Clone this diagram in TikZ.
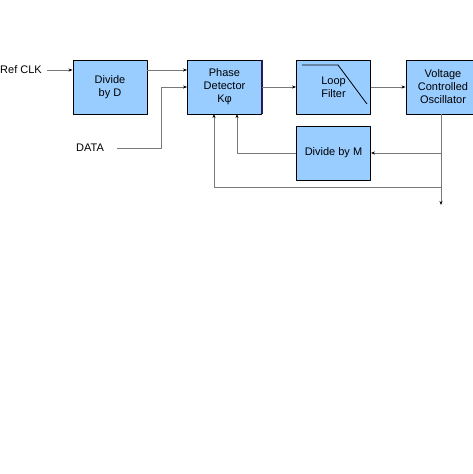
\documentclass[tikz,border=0pt]{standalone}
\usepackage{fontspec}
\setmainfont{Liberation Sans}
\usetikzlibrary{arrows.meta}
\definecolor{boxblue}{RGB}{153,204,255}
\definecolor{wiregray}{RGB}{120,120,120}
\definecolor{edgenavy}{RGB}{30,30,90}
\tikzset{
	block/.style={draw=black, line width=0.9pt, fill=boxblue, minimum width=74pt, minimum height=54pt, align=center, inner sep=1pt},
	wire/.style={draw=wiregray, line width=0.6pt},
	lbl/.style={inner sep=1pt}
}

\begin{document}
\begin{tikzpicture}[x=1pt, y=-1pt, >={Stealth[length=4pt,width=3pt,black]}, font=\fontsize{11}{13}\selectfont, line join=round]
	\useasboundingbox (0,0) rectangle (473,474);
	\begin{scope}
	\clip (0,0) rectangle (473,474);
	% blocks
	\node[block] (divD) at (110,87) {Divide\\by D};
	\node[block] (pd) at (224.5,87) {Phase\\Detector\\Kφ};
	\node[block] (lf) at (333.5,87) {Loop\\Filter};
	\node[block] (vco) at (443,87) {Voltage\\Controlled\\Oscillator};
	\node[block] (divM) at (333.5,153) {Divide by M};
	\draw[line width=1.3pt, edgenavy] (pd.north east) -- (pd.south east);
	% loop filter icon
	\draw[line width=0.8pt] (302,65) -- (338,65) -- (367,104);
	% inputs
	\node[lbl, anchor=east] (ref) at (43,70) {Ref CLK};
	\node[lbl] (data) at (90,148) {DATA};
	\coordinate (refin) at (divD.west |- 0,70);
	\coordinate (divDout) at (divD.east |- 0,70);
	\coordinate (pdinA) at (pd.west |- 0,70);
	\coordinate (pdinB) at (pd.west |- 0,87);
	\coordinate (dataend) at (117,148);
	\coordinate (datacorner) at (161,148);
	\draw[wire,->] (ref.east) ++(4,0) -- (refin);
	\draw[wire,->] (divDout) -- (pdinA);
	\draw[wire,->] (dataend) -- (datacorner) |- (pdinB);
	% forward path
	\draw[wire,->] (pd.east) -- (lf.west);
	\draw[wire,->] (lf.east) -- (vco.west);
	% feedback
	\coordinate (vcoout) at (441,114);
	\coordinate (outend) at (441,205);
	\coordinate (tapM) at (441,153);
	\coordinate (tapB) at (441,187);
	\coordinate (pdfbA) at (214,114);
	\coordinate (pdfbB) at (237,114);
	\draw[wire,->] (vcoout) -- (outend);
	\draw[wire,->] (tapM) -- (divM.east);
	\draw[wire,->] (divM.west) -| (pdfbB);
	\draw[wire,->] (tapB) -| (pdfbA);
	\end{scope}
\end{tikzpicture}
\end{document}
